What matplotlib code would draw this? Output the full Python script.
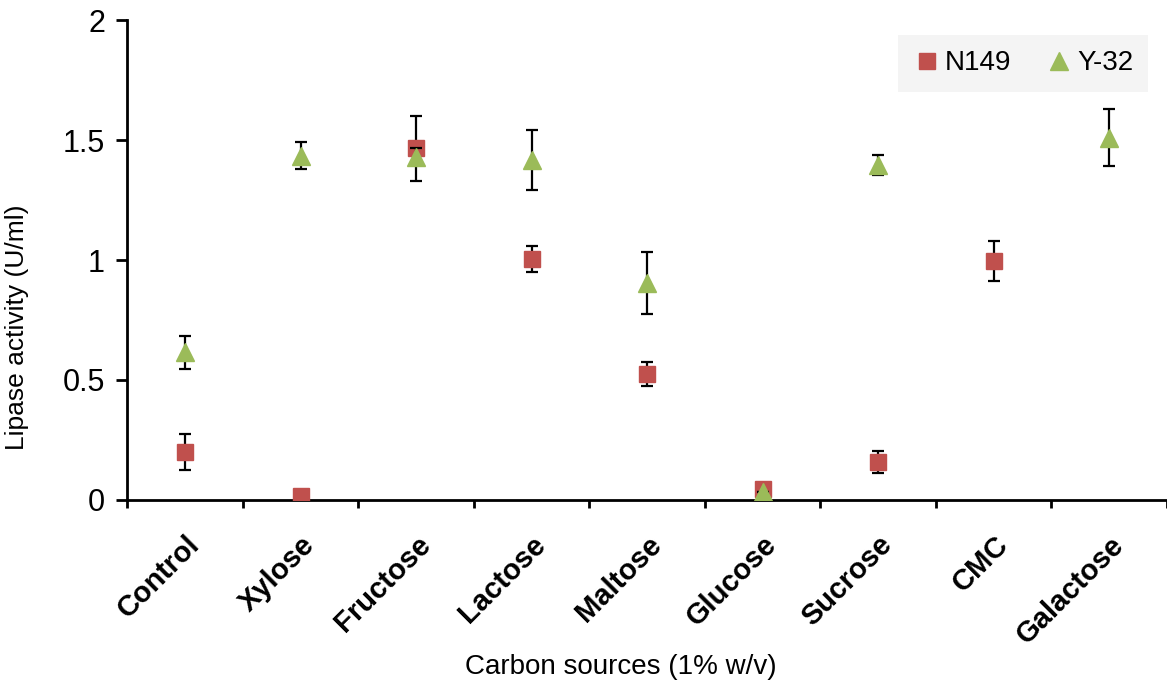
import numpy as np
import matplotlib
matplotlib.use("Agg")
import matplotlib.pyplot as plt

plt.rcParams['font.family'] = ['Liberation Sans', 'DejaVu Sans']

# carbon sources on the x axis
sources = ['Control', 'Xylose', 'Fructose', 'Lactose', 'Maltose',
           'Glucose', 'Sucrose', 'CMC', 'Galactose']

# lipase activity (U/ml), NaN where the strain was not plotted
n149 = [0.20, 0.015, 1.465, 1.005, 0.525, 0.045, 0.158, 0.996, np.nan]
n149_err = [0.077, 0.0, 0.135, 0.055, 0.05, 0.0, 0.045, 0.085, np.nan]
y32 = [0.615, 1.435, 1.43, 1.415, 0.905, 0.035, 1.396, np.nan, 1.51]
y32_err = [0.068, 0.055, 0.035, 0.125, 0.13, 0.0, 0.04, np.nan, 0.118]

x = np.arange(len(sources))

fig = plt.figure(figsize=(11.67, 6.92), dpi=100)
ax = fig.add_axes([0.109, 0.2775, 0.891, 0.6935])

# error bars first, markers on top
ax.errorbar(x, n149, yerr=n149_err, fmt='none', ecolor='black',
            elinewidth=1.6, capsize=4, capthick=1.6, zorder=2)
ax.plot(x, n149, 's', color='#C0504D', ms=12, label='N149', zorder=3)
ax.errorbar(x, y32, yerr=y32_err, fmt='none', ecolor='black',
            elinewidth=1.6, capsize=4, capthick=1.6, zorder=4)
ax.plot(x, y32, '^', color='#9BBB59', ms=13, label='Y-32', zorder=5)

ax.set_xlim(-0.5, 8.457)
ax.set_ylim(0, 2)
ax.set_yticks([0, 0.5, 1, 1.5, 2])
ax.set_yticklabels(['0', '0.5', '1', '1.5', '2'], fontsize=22)

# major ticks between categories, labels at category centres
ax.set_xticks(np.arange(-0.5, 9, 1))
ax.set_xticklabels([])
ax.set_xticks(x, minor=True)
ax.set_xticklabels(sources, minor=True, rotation=45, ha='right',
                   rotation_mode='anchor', fontsize=21, fontweight='bold')
ax.tick_params(axis='x', which='minor', length=0, pad=22)
ax.tick_params(axis='x', which='major', length=6, width=2, direction='out')
ax.tick_params(axis='y', length=8, width=2, direction='out', pad=8)

for side in ['top', 'right']:
    ax.spines[side].set_visible(False)
for side in ['left', 'bottom']:
    ax.spines[side].set_linewidth(2)

ax.set_ylabel('Lipase activity (U/ml)', fontsize=19)
ax.yaxis.set_label_coords(-0.094, 0.36)
ax.set_xlabel('Carbon sources (1% w/v)', fontsize=20)
ax.xaxis.set_label_coords(0.475, -0.32)

leg = ax.legend(loc='upper right', bbox_to_anchor=(0.982, 0.969), ncol=2,
                fontsize=20, frameon=True, handletextpad=0.15,
                columnspacing=1.2, borderpad=0.55, handlelength=1.0,
                borderaxespad=0)
leg.get_frame().set_facecolor('#F4F4F4')
leg.get_frame().set_edgecolor('none')
leg.get_frame().set_alpha(1)
leg.get_frame().set_boxstyle('square', pad=0)

fig.savefig('out.png', dpi=100)
